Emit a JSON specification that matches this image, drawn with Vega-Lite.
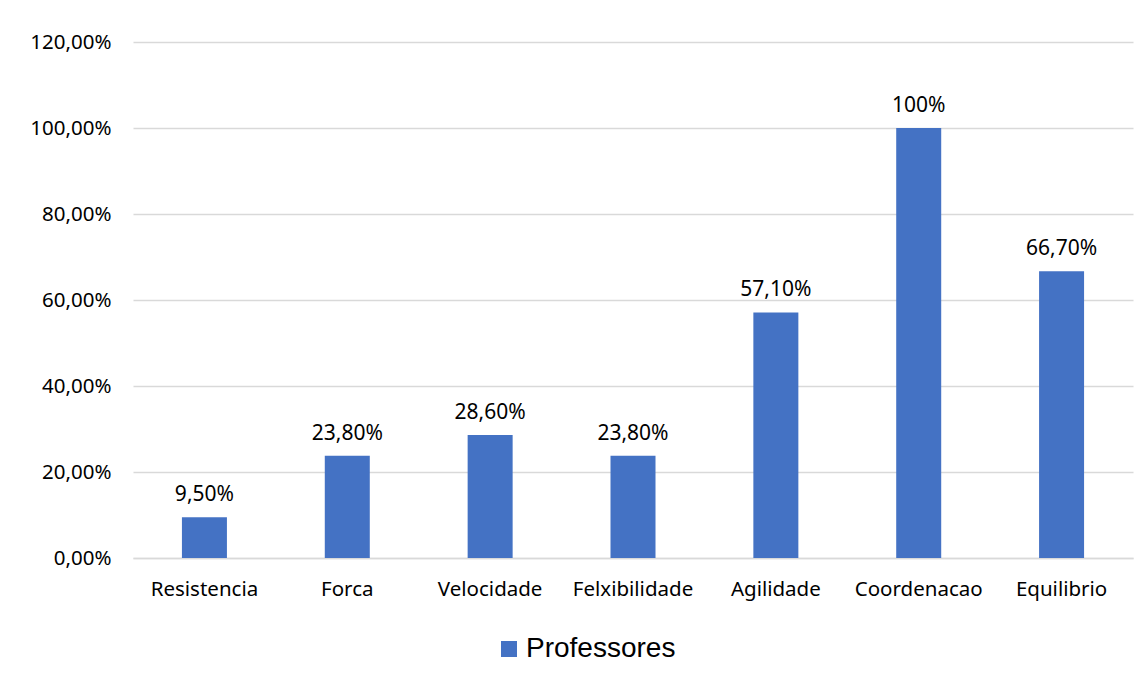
{
  "$schema": "https://vega.github.io/schema/vega-lite/v6.json",
  "autosize": "none",
  "width": 1000,
  "height": 516,
  "padding": {"left": 133, "top": 42, "right": 14, "bottom": 119},
  "background": "white",
  "config": {
    "view": {"stroke": null},
    "font": "Noto Sans"
  },
  "data": {
    "values": [
      {"cat": "Resistencia", "value": 9.5, "label": "9,50%", "serie": "Professores"},
      {"cat": "Forca", "value": 23.8, "label": "23,80%", "serie": "Professores"},
      {"cat": "Velocidade", "value": 28.6, "label": "28,60%", "serie": "Professores"},
      {"cat": "Felxibilidade", "value": 23.8, "label": "23,80%", "serie": "Professores"},
      {"cat": "Agilidade", "value": 57.1, "label": "57,10%", "serie": "Professores"},
      {"cat": "Coordenacao", "value": 100, "label": "100%", "serie": "Professores"},
      {"cat": "Equilibrio", "value": 66.7, "label": "66,70%", "serie": "Professores"}
    ]
  },
  "encoding": {
    "x": {
      "field": "cat",
      "type": "nominal",
      "sort": null,
      "scale": {"paddingInner": 0.685, "paddingOuter": 0.3425},
      "axis": {
        "title": null,
        "labelAngle": 0,
        "labelFont": "Noto Sans",
        "labelFontSize": 20.5,
        "labelColor": "#000000",
        "labelPadding": 21,
        "ticks": false,
        "domainColor": "#d9d9d9",
        "domainWidth": 1.5
      }
    },
    "y": {
      "field": "value",
      "type": "quantitative",
      "scale": {"domain": [0, 120]},
      "axis": {
        "title": null,
        "values": [0, 20, 40, 60, 80, 100, 120],
        "labelExpr": "replace(format(datum.value, '.2f'), '.', ',') + '%'",
        "labelFont": "Noto Sans",
        "labelFontSize": 20.5,
        "labelColor": "#000000",
        "labelPadding": 22,
        "ticks": false,
        "domain": false,
        "gridColor": "#d9d9d9",
        "gridWidth": 1.5
      }
    }
  },
  "layer": [
    {
      "mark": {"type": "bar", "width": 45},
      "encoding": {
        "color": {
          "field": "serie",
          "type": "nominal",
          "scale": {"range": ["#4472c4"]},
          "legend": {
            "title": null,
            "orient": "none",
            "legendX": 362,
            "legendY": 593,
            "symbolType": "square",
            "symbolSize": 256,
            "symbolStrokeWidth": 0,
            "symbolOpacity": 1,
            "labelFont": "Liberation Sans",
            "labelFontSize": 28,
            "labelColor": "#000000",
            "labelOffset": 3
          }
        }
      }
    },
    {
      "mark": {"type": "text", "baseline": "bottom", "dy": -12, "fontSize": 21, "font": "Noto Sans", "color": "#000000"},
      "encoding": {
        "text": {"field": "label", "type": "nominal"}
      }
    }
  ]
}
